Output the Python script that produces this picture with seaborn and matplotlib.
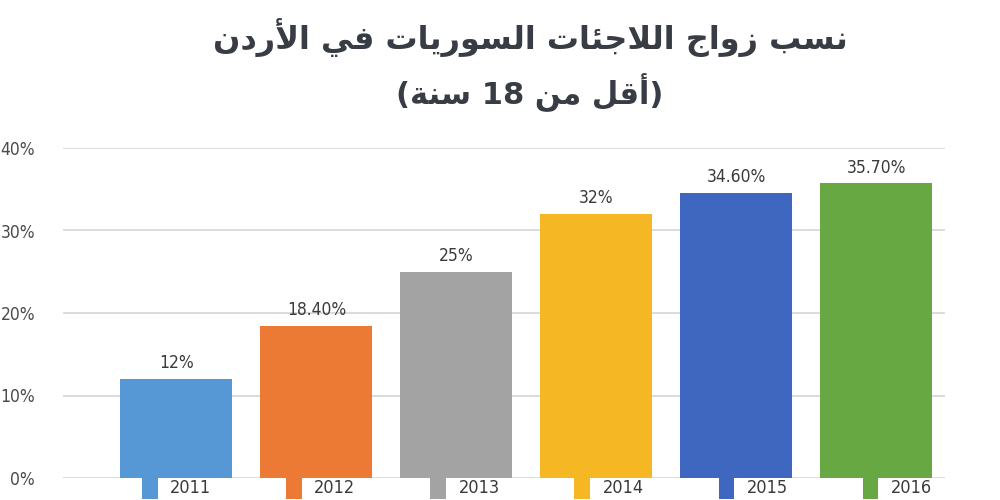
import re
import matplotlib
matplotlib.use("Agg")
import matplotlib.pyplot as plt
import seaborn as sns
import pandas as pd

years = ["2011", "2012", "2013", "2014", "2015", "2016"]
values = [0.12, 0.184, 0.25, 0.32, 0.346, 0.357]
value_labels = ["12%", "18.40%", "25%", "32%", "34.60%", "35.70%"]
y_ticks = [0.0, 0.1, 0.2, 0.3, 0.4]
y_tick_labels = ["0%", "10%", "20%", "30%", "40%"]
colors = ["#5698D6", "#EC7A34", "#A3A3A3", "#F5B824", "#3F67BF", "#68A843"]
title_line1 = "نسب زواج اللاجئات السوريات في الأردن"
title_line2 = "(أقل من 18 سنة)"

# --- minimal Arabic shaping (presentation forms) + visual reordering ---
FORMS = {
    '\u0627': (0xFE8D, 2), '\u0623': (0xFE83, 2), '\u0628': (0xFE8F, 4), '\u0629': (0xFE93, 2),
    '\u062A': (0xFE95, 4), '\u062C': (0xFE9D, 4), '\u062F': (0xFEA9, 2), '\u0631': (0xFEAD, 2),
    '\u0632': (0xFEAF, 2), '\u0633': (0xFEB1, 4), '\u0641': (0xFED1, 4), '\u0642': (0xFED5, 4),
    '\u0644': (0xFEDD, 4), '\u0645': (0xFEE1, 4), '\u0646': (0xFEE5, 4), '\u0648': (0xFEED, 2),
    '\u064A': (0xFEF1, 4), '\u0626': (0xFE89, 4),
}
LAM_ALEF = {'\u0627': 0xFEFB, '\u0623': 0xFEF7}


def shape(text):
    tokens = []
    i = 0
    while i < len(text):
        c = text[i]
        if c == '\u0644' and i + 1 < len(text) and text[i + 1] in LAM_ALEF:
            tokens.append(('LA', text[i + 1]))
            i += 2
        else:
            tokens.append(('C', c))
            i += 1

    def joins(tok):
        if tok[0] == 'LA':
            return 2
        return FORMS.get(tok[1], (None, 0))[1]

    out = []
    for k, tok in enumerate(tokens):
        prev = tokens[k - 1] if k > 0 else None
        nxt = tokens[k + 1] if k + 1 < len(tokens) else None
        n = joins(tok)
        if n == 0:
            out.append(tok[1])
            continue
        cp = prev is not None and joins(prev) == 4
        cn = n == 4 and nxt is not None and joins(nxt) > 0
        if tok[0] == 'LA':
            out.append(chr(LAM_ALEF[tok[1]] + (1 if cp else 0)))
            continue
        base = FORMS[tok[1]][0]
        off = 3 if (cp and cn) else 1 if cp else 2 if cn else 0
        out.append(chr(base + off))
    return ''.join(out)


def visual(text):
    s = shape(text)
    parts = re.findall(r'[0-9]+|[^0-9]', s)[::-1]
    mirror = {'(': ')', ')': '('}
    return ''.join(mirror.get(p, p) for p in parts)


sns.set_theme(style="white")
plt.rcParams['font.family'] = ['DejaVu Sans']

df = pd.DataFrame({"year": years, "value": values})

fig = plt.figure(figsize=(10, 5), dpi=100)
ax = fig.add_axes([0.063, 0.044, 0.882, 0.66])

sns.barplot(data=df, x="year", y="value", hue="year", palette=colors,
            width=0.8, saturation=1, ax=ax, legend=True, zorder=3, linewidth=0)

ax.set_ylim(0, 0.40)
ax.set_xlim(-0.81, 5.49)
ax.set_yticks(y_ticks)
ax.set_yticklabels(y_tick_labels, color="#4A4A4A", fontsize=12.5, fontstretch="condensed")
ax.tick_params(axis="y", length=0, pad=20)
ax.set_xticks([])
ax.set_xlabel("")
ax.set_ylabel("")
ax.grid(axis="y", color="#D9D9D9", linewidth=1.3, zorder=0)
ax.set_axisbelow(True)
for s in ax.spines.values():
    s.set_visible(False)

for i, c in enumerate(ax.containers):
    ax.bar_label(c, labels=[value_labels[i]], padding=5, color="#3A3A3A",
                 fontsize=12.5, fontstretch="condensed")

handles, labels = ax.get_legend_handles_labels()
ax.get_legend().remove()
leg = fig.legend(handles, labels, loc="center", bbox_to_anchor=(0.537, 0.026), ncol=6,
                 frameon=False, fontsize=13, handlelength=0.85, handleheight=1.6,
                 handletextpad=0.7, columnspacing=4.15)
for t in leg.get_texts():
    t.set_color("#3A3A3A")
    t.set_fontstretch("condensed")

fig.text(0.53, 0.925, visual(title_line1), ha="center", va="center", fontsize=23,
         fontweight="bold", color="#383C44")
fig.text(0.53, 0.815, visual(title_line2), ha="center", va="center", fontsize=22,
         fontweight="bold", color="#383C44")

fig.savefig("out.png", dpi=100)
